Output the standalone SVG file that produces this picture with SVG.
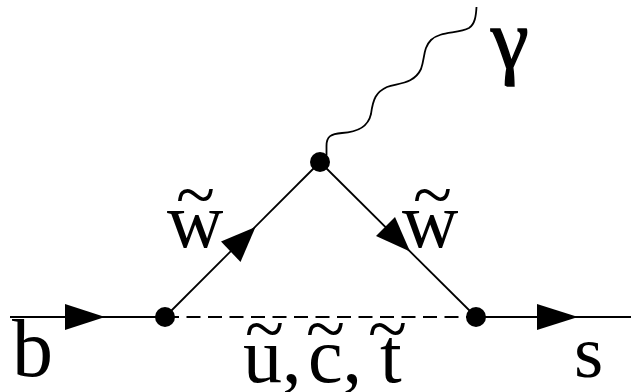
<svg xmlns="http://www.w3.org/2000/svg" width="631" height="392" viewBox="0 0 631 392">
<style>
.l{stroke:#000;stroke-width:1.8;fill:none}
.d{stroke-dasharray:14 7.500}
.a{fill:#000}
text{font-family:"Liberation Serif","Times New Roman",serif;fill:#000}
.t{font-size:78px}
.g{font-size:72px}
</style>
<rect width="631" height="392" fill="#fff"/>
<g id="connectors">
<path class="l" d="M10 317H165"/>
<path class="l d" d="M165 317H476"/>
<path class="l" d="M476 317H631"/>
<path class="l" d="M165 317L320 162"/>
<path class="l" d="M320 162L476 317"/>
<path class="l" d="M326.500 155V146C326.500 136 331 134 342 133C358 132 368 127 371 114C373 99 376 92 387 87C398 83 414 84 421 69C425 58 423 48 431 40C440 31 458 34 469 28C475 24 476 16 476.500 7"/>
<polygon class="a" points="65,304 105,317 65,330"/>
<polygon class="a" points="537,304 578,317 537,330"/>
<polygon class="a" points="221,241.500 255.500,227 240.500,262"/>
<polygon class="a" points="395,217 410,251.500 376,236"/>
</g>
<g id="n1"><circle class="a" cx="165" cy="317" r="10"/></g>
<g id="n2"><circle class="a" cx="320" cy="162" r="10"/></g>
<g id="n3"><circle class="a" cx="476" cy="317" r="10"/></g>
<g id="labels">
<text x="12" y="376" style="font-size:82px">b</text>
<text x="574" y="377" style="font-size:75px">s</text>
<text x="491" y="68" style="font-size:85px;stroke:#000;stroke-width:1.5">γ</text>
<text class="t" x="167" y="247">w</text>
<text class="g" x="176" y="219">~</text>
<text class="t" x="402" y="247">w</text>
<text class="g" x="413" y="219">~</text>
<text class="t" x="243" y="382">u,</text>
<text class="g" x="245" y="353">~</text>
<text class="t" x="308" y="382">c,</text>
<text class="g" x="306" y="353">~</text>
<text class="t" x="380" y="382">t</text>
<text class="g" x="368" y="353">~</text>
</g>
</svg>
